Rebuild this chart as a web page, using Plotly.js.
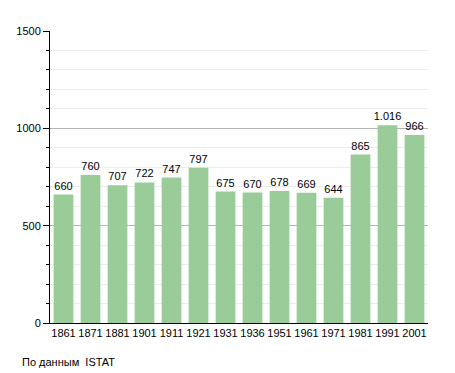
<!DOCTYPE html>
<html>
<head>
<meta charset="utf-8">
<script src="https://cdn.plot.ly/plotly-3.0.1.min.js"></script>
<style>html,body{margin:0;padding:0;background:#fff;}#chart{width:455px;height:373px;}</style>
</head>
<body>
<div id="chart"></div>
<script>
const years = ["1861","1871","1881","1901","1911","1921","1931","1936","1951","1961","1971","1981","1991","2001"];
const population = [660,760,707,722,747,797,675,670,678,669,644,865,1016,966];
const valueLabels = ["660","760","707","722","747","797","675","670","678","669","644","865","1.016","966"];
const yTicks = [0,500,1000,1500];
const sourceNote = "По данным  ISTAT";

const trace = {
  type: 'bar',
  x: years,
  y: population,
  text: valueLabels,
  texttemplate: '%{text}',
  textposition: 'outside',
  constraintext: 'none',
  cliponaxis: false,
  textfont: {family: 'Liberation Sans, Arial, sans-serif', size: 11, color: '#000'},
  marker: {color: '#99CC99', line: {width: 0}},
  hoverinfo: 'none'
};

const layout = {
  width: 455, height: 373,
  margin: {l: 50, r: 27, t: 31, b: 50},
  paper_bgcolor: '#fff', plot_bgcolor: '#fff',
  bargap: 0.27,
  showlegend: false,
  font: {family: 'Liberation Sans, Arial, sans-serif', size: 11, color: '#000'},
  xaxis: {
    type: 'category',
    showline: true, linecolor: '#000', linewidth: 1,
    ticks: '', showgrid: false,
    tickfont: {size: 11, color: '#000'},
    fixedrange: true
  },
  yaxis: {
    range: [0, 1500],
    tickvals: yTicks,
    ticktext: yTicks.map(String),
    showline: true, linecolor: '#000', linewidth: 1,
    ticks: 'outside', ticklen: 6, tickcolor: '#000',
    gridcolor: '#b4b4b4', gridwidth: 1,
    zeroline: false,
    tickfont: {size: 11, color: '#000'},
    minor: {dtick: 100, ticks: 'outside', ticklen: 3, tickcolor: '#000', showgrid: true, gridcolor: '#ececec'},
    fixedrange: true
  },
  annotations: [{
    text: sourceNote, xref: 'paper', yref: 'paper',
    x: -0.08, y: -0.134, xanchor: 'left', yanchor: 'middle',
    showarrow: false, font: {size: 11, color: '#000'}
  }]
};

Plotly.newPlot('chart', [trace], layout, {displayModeBar: false, staticPlot: true});
</script>
</body>
</html>
